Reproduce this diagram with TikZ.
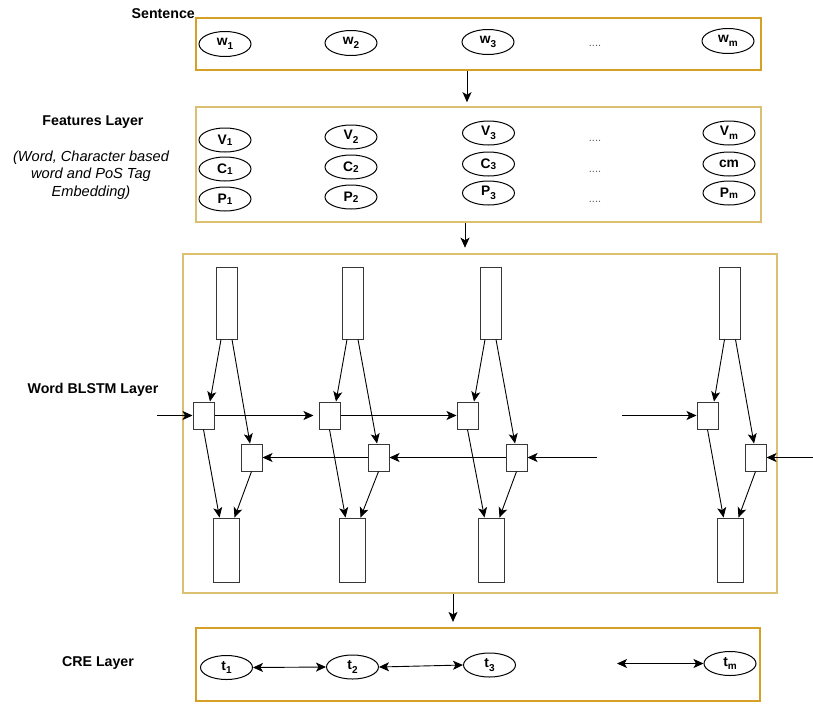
\documentclass[tikz,border=0pt]{standalone}
\usepackage{fontspec}
\setmainfont{Liberation Sans}
\usetikzlibrary{arrows.meta,shapes.geometric,calc}
\definecolor{gold}{RGB}{214,160,36}
\definecolor{paleGold}{RGB}{218,192,112}
\definecolor{boxgray}{RGB}{55,55,55}
\definecolor{dotgray}{RGB}{90,90,90}
\newcommand{\lsub}[1]{\raisebox{-0.28em}{\fontsize{10}{10}\selectfont #1}}
\newcommand{\bsub}[1]{\raisebox{-0.08em}{\fontsize{10}{10}\selectfont #1}}
\begin{document}
\begin{tikzpicture}[x=1pt,y=-1pt,
  layerbox/.style={draw=gold,line width=2.2pt,inner sep=0pt},
  palebox/.style={draw=paleGold,line width=2.6pt,inner sep=0pt},
  lab/.style={font=\bfseries\fontsize{14.2}{16}\selectfont,inner sep=0pt},
  ital/.style={font=\itshape\fontsize{14.6}{17.5}\selectfont,align=center,inner sep=0pt},
  ell/.style={draw,ellipse,line width=1pt,minimum width=52pt,minimum height=25pt,inner sep=0pt,font=\bfseries\fontsize{13.8}{14}\selectfont},
  fell/.style={ell,minimum height=24pt},
  dots/.style={text=dotgray,font=\fontsize{11}{11}\selectfont,inner sep=0pt},
  tall/.style={draw=boxgray,line width=1pt,inner sep=0pt,minimum width=21pt,minimum height=72pt},
  low/.style={draw=boxgray,line width=1pt,inner sep=0pt,minimum width=26pt,minimum height=64pt},
  cell/.style={draw=boxgray,line width=1pt,inner sep=0pt,minimum width=21pt,minimum height=27pt},
  tip/.style={Stealth[length=10pt,width=9pt,inset=2.5pt]},
  arr/.style={-{Stealth[length=10pt,width=9pt,inset=2.5pt]},line width=0.9pt},
  darr/.style={{Stealth[length=10pt,width=9pt,inset=2.5pt]}-{Stealth[length=10pt,width=9pt,inset=2.5pt]},line width=0.9pt}
]
\useasboundingbox (0,0) rectangle (813,705);

% layer boxes
\node[layerbox,minimum width=565pt,minimum height=52pt] (sent) at (478.5,44) {};
\node[palebox,minimum width=565pt,minimum height=115pt] (feat) at (478.5,164.5) {};
\node[palebox,minimum width=594pt,minimum height=339pt] (blstm) at (480,423.5) {};
\node[layerbox,minimum width=564pt,minimum height=73pt] (cre) at (478,664.5) {};

% labels
\node[lab,anchor=east] (lsent) at (195,14) {Sentence};
\node[lab] (lfeat) at (93,122) {Features Layer};
\node[ital] (lemb) at (91,175) {(Word, Character based\\word and PoS Tag\\Embedding)};
\node[lab] (lblstm) at (93,390) {Word BLSTM Layer};
\node[lab] (lcre) at (98,663) {CRE Layer};

% sentence
\node[ell] (w1) at (225,44) {w\lsub{1}};
\node[ell] (w2) at (351,43) {w\lsub{2}};
\node[ell] (w3) at (488,42) {w\lsub{3}};
\node[ell] (wm) at (728,41) {w\lsub{m}};
\node[dots] (sd) at (595,46) {....};

% features
\node[fell] (v1) at (225,140) {V\bsub{1}};
\node[fell] (v2) at (351,137) {V\lsub{2}};
\node[fell] (v3) at (488.5,133) {V\lsub{3}};
\node[fell] (vm) at (729,133) {V\lsub{m}};
\node[fell] (c1) at (225,169) {C\bsub{1}};
\node[fell] (c2) at (351,167) {C\bsub{2}};
\node[fell] (c3) at (488.5,164) {C\bsub{3}};
\node[fell] (cm) at (729,164) {cm};
\node[fell] (p1) at (225,199) {P\bsub{1}};
\node[fell] (p2) at (351,197) {P\bsub{2}};
\node[fell] (p3) at (488.5,193) {P\lsub{3}};
\node[fell] (pm) at (729,193) {P\bsub{m}};
\node[dots] (fd1) at (595,141) {....};
\node[dots] (fd2) at (595,172) {....};
\node[dots] (fd3) at (595,202) {....};

% BLSTM cells
\node[tall] (tp1) at (226.5,303) {};
\node[tall] (tp2) at (352.5,303) {};
\node[tall] (tp3) at (490.5,303) {};
\node[tall] (tp4) at (730,303) {};
\node[cell] (fw1) at (203.5,415.5) {};
\node[cell] (fw2) at (329.5,415.5) {};
\node[cell] (fw3) at (467.5,415.5) {};
\node[cell] (fw4) at (707.5,415.5) {};
\node[cell] (bw1) at (251.5,457.5) {};
\node[cell] (bw2) at (378.5,457.5) {};
\node[cell] (bw3) at (516.5,457.5) {};
\node[cell] (bw4) at (755.5,457.5) {};
\node[low] (bt1) at (226,550) {};
\node[low] (bt2) at (352,550) {};
\node[low] (bt3) at (491,550) {};
\node[low] (bt4) at (730,550) {};

\foreach \i in {1,...,4}{
  \draw[arr] ([xshift=-5.5pt]tp\i.south) -- ([xshift=6.5pt]fw\i.north);
  \draw[arr] ([xshift=5.5pt]tp\i.south) -- ([xshift=-1.5pt]bw\i.north);
  \draw[arr] (fw\i.south) -- ([xshift=-6.5pt]bt\i.north);
  \draw[arr] (bw\i.south) -- ([xshift=8.5pt]bt\i.north);
}

% recurrent connections
\coordinate (fin) at (157,415.5);
\coordinate (fmid) at (622,415.5);
\coordinate (bmid) at (597,457.5);
\coordinate (bin) at (813,457.5);
\draw[arr] (fin) -- (fw1.west);
\draw[arr,shorten >=5pt] (fw1.east) -- (fw2.west);
\draw[arr] (fw2.east) -- (fw3.west);
\draw[arr] (fmid) -- (fw4.west);
\draw[arr] (bmid) -- (bw3.east);
\draw[arr] (bw3.west) -- (bw2.east);
\draw[arr] (bw2.west) -- (bw1.east);
\draw[arr] (bin) -- (bw4.east);

% between layers
\draw[arr] ([xshift=-11.5pt]sent.south) -- ([xshift=-11.5pt,yshift=3.5pt]feat.north);
\draw[arr] ([xshift=-13.5pt]feat.south) -- ([xshift=-15pt,yshift=5pt]blstm.north);
\draw[arr] ([xshift=-27pt]blstm.south) -- ([xshift=-25pt,yshift=5pt]cre.north);

% CRE
\node[ell,minimum height=24pt] (t1) at (226.5,667.5) {t\lsub{1}};
\node[ell,minimum height=24pt] (t2) at (352.5,667) {t\lsub{2}};
\node[ell,minimum height=24pt] (t3) at (489.5,665) {t\lsub{3}};
\node[ell,minimum height=24pt] (tm) at (730,663.5) {t\lsub{m}};
\coordinate (cin) at (617,663.5);
\draw[darr] (t1.east) -- (t2.west);
\draw[darr] (t2.east) -- (t3.west);
\draw[darr] (cin) -- (tm.west);
\end{tikzpicture}
\end{document}
